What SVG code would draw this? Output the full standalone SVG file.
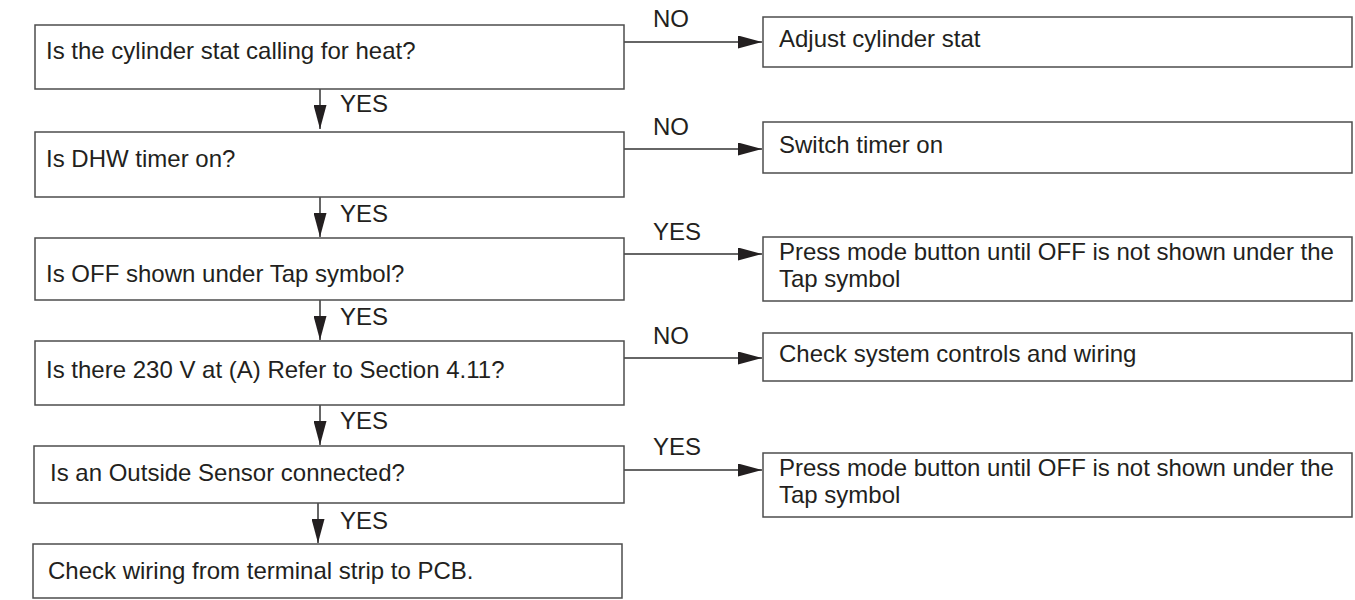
<svg xmlns="http://www.w3.org/2000/svg" width="1355" height="600" viewBox="0 0 1355 600">
<style>
  .box { fill: #ffffff; stroke: #4d4d4d; stroke-width: 1.5; }
  .t { font-family: "Liberation Sans", Arial, sans-serif; font-size: 24px; fill: #231f20; }
  .conn { stroke: #333333; stroke-width: 1.5; fill: none; marker-end: url(#ah); }
</style>
<defs>
  <marker id="ah" viewBox="0 0 24 13" refX="24" refY="6.5" markerWidth="24" markerHeight="13" markerUnits="userSpaceOnUse" orient="auto">
    <path d="M0,0 L24,6.5 L0,13 z" fill="#231f20"/>
  </marker>
</defs>
<rect width="1355" height="600" fill="#ffffff"/>

<g id="connectors">
  <line class="conn" x1="320" y1="89" x2="320" y2="129"/>
  <line class="conn" x1="320" y1="197" x2="320" y2="237"/>
  <line class="conn" x1="320" y1="300" x2="320" y2="340"/>
  <line class="conn" x1="320" y1="405" x2="320" y2="445"/>
  <line class="conn" x1="318" y1="503" x2="318" y2="543"/>
  <line class="conn" x1="624" y1="42" x2="762" y2="42"/>
  <line class="conn" x1="624" y1="149" x2="762" y2="149"/>
  <line class="conn" x1="624" y1="254" x2="762" y2="254"/>
  <line class="conn" x1="624" y1="358" x2="762" y2="358"/>
  <line class="conn" x1="624" y1="470" x2="762" y2="470"/>
  <text class="t" x="340" y="112">YES</text>
  <text class="t" x="340" y="222">YES</text>
  <text class="t" x="340" y="325">YES</text>
  <text class="t" x="340" y="429">YES</text>
  <text class="t" x="340" y="529">YES</text>
  <text class="t" x="653" y="27">NO</text>
  <text class="t" x="653" y="135">NO</text>
  <text class="t" x="653" y="240">YES</text>
  <text class="t" x="653" y="344">NO</text>
  <text class="t" x="653" y="455">YES</text>
</g>

<g id="q1">
  <rect class="box" x="35" y="25" width="589" height="64"/>
  <text class="t" x="46" y="59">Is the cylinder stat calling for heat?</text>
</g>
<g id="q2">
  <rect class="box" x="35" y="132" width="589" height="65"/>
  <text class="t" x="46" y="167">Is DHW timer on?</text>
</g>
<g id="q3">
  <rect class="box" x="35" y="238" width="589" height="62"/>
  <text class="t" x="46" y="282">Is OFF shown under Tap symbol?</text>
</g>
<g id="q4">
  <rect class="box" x="35" y="341" width="589" height="64"/>
  <text class="t" x="46" y="378">Is there 230 V at (A) Refer to Section 4.11?</text>
</g>
<g id="q5">
  <rect class="box" x="34" y="446" width="590" height="57"/>
  <text class="t" x="50" y="481">Is an Outside Sensor connected?</text>
</g>
<g id="end">
  <rect class="box" x="33" y="544" width="589" height="54"/>
  <text class="t" x="48" y="579">Check wiring from terminal strip to PCB.</text>
</g>

<g id="a1">
  <rect class="box" x="763" y="17" width="589" height="50"/>
  <text class="t" x="779" y="47">Adjust cylinder stat</text>
</g>
<g id="a2">
  <rect class="box" x="763" y="122" width="589" height="51"/>
  <text class="t" x="779" y="153">Switch timer on</text>
</g>
<g id="a3">
  <rect class="box" x="763" y="237" width="589" height="64"/>
  <text class="t" x="779" y="260">Press mode button until OFF is not shown under the</text>
  <text class="t" x="779" y="287">Tap symbol</text>
</g>
<g id="a4">
  <rect class="box" x="763" y="333" width="589" height="48"/>
  <text class="t" x="779" y="362">Check system controls and wiring</text>
</g>
<g id="a5">
  <rect class="box" x="763" y="453" width="589" height="64"/>
  <text class="t" x="779" y="476">Press mode button until OFF is not shown under the</text>
  <text class="t" x="779" y="503">Tap symbol</text>
</g>
</svg>
